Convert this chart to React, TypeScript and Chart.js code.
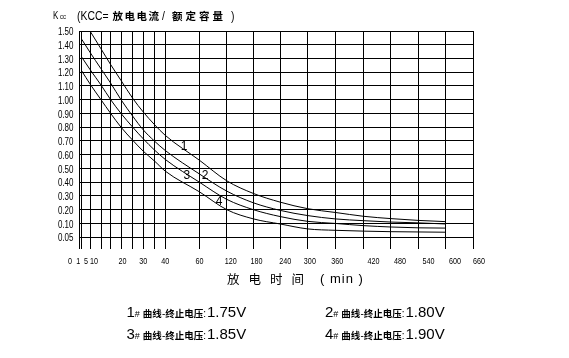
import React, { useEffect, useRef } from 'react';
import { Chart, registerables, LinearScale } from 'chart.js';

// ---------------- data ----------------
const MINUTES = [1, 5, 10, 15, 20, 25, 30, 35, 40, 60, 120, 180, 240, 300, 360, 420, 480, 540, 600];
const KCC_175 = [null, 1.5, 1.37, 1.255, 1.14, 1.01, 0.91, 0.82, 0.74, 0.56, 0.41, 0.318, 0.255, 0.207, 0.18, 0.152, 0.135, 0.122, 0.113];
const KCC_180 = [1.44, 1.345, 1.225, 1.12, 1.0, 0.88, 0.78, 0.7, 0.63, 0.46, 0.335, 0.25, 0.195, 0.157, 0.133, 0.12, 0.11, 0.104, 0.098];
const KCC_185 = [1.31, 1.22, 1.107, 1.0, 0.9, 0.8, 0.715, 0.635, 0.565, 0.4, 0.275, 0.2, 0.15, 0.115, 0.1, 0.092, 0.087, 0.084, 0.083];
const KCC_190 = [1.21, 1.115, 1.0, 0.9, 0.8, 0.705, 0.625, 0.555, 0.48, 0.33, 0.2, 0.133, 0.098, 0.08, 0.075, 0.072, 0.07, 0.069, 0.068];
const SERIES = [KCC_175, KCC_180, KCC_185, KCC_190];
const CURVE_NAMES = ['1', '2', '3', '4'];
const END_VOLTAGES = ['1.75V', '1.80V', '1.85V', '1.90V'];

const X_TICKS = [0, 1, 5, 10, 15, 20, 25, 30, 35, 40, 60, 120, 180, 240, 300, 360, 420, 480, 540, 600, 660];
const X_TICK_LABELS = ['0', '1', '5', '10', '', '20', '', '30', '', '40', '60', '120', '180', '240', '300', '360', '420', '480', '540', '600', '660'];
const Y_TICKS = [0.05, 0.1, 0.2, 0.3, 0.4, 0.5, 0.6, 0.7, 0.8, 0.9, 1.0, 1.1, 1.2, 1.3, 1.4, 1.5];
const Y_TICK_LABELS = ['0.05', '0.10', '0.20', '0.30', '0.40', '0.50', '0.60', '0.70', '0.80', '0.90', '1.00', '1.10', '1.20', '1.30', '1.40', '1.50'];

// curve tags, placed in data coordinates (minutes, Kcc)
const CURVE_TAGS = [
  { t: '1', m: 51, k: 0.66 },
  { t: '2', m: 72.5, k: 0.449 },
  { t: '3', m: 52.6, k: 0.449 },
  { t: '4', m: 103, k: 0.26 },
];

// ---------------- axis layout (non-uniform grid of the original sheet) ----------------
const X_BREAKS = [0, 1, 5, 10, 15, 20, 25, 30, 35, 40, 60, 120, 180, 240, 300, 360, 420, 480, 540, 600, 660];
const X_UNITS = [0, 2.7, 11, 22, 31.7, 42, 53.7, 64.3, 75.3, 86.3, 120.3, 147.7, 174.3, 201, 228.7, 256, 284.3, 311.7, 339.3, 366.7, 393.7];
const Y_BREAKS = [0, 0.05, 0.1, 1.5];
const Y_UNITS = [0, 0.86, 1.86, 15.86];
const X_LABEL_NUDGE: Record<number, number> = { 0: -9, 1: -3.5, 5: -4, 10: -7, 20: 1.5, 120: 4, 180: 3, 240: 5, 300: 2, 360: 2, 420: 10, 480: 9, 540: 10, 600: 9, 660: 6 };

const SANS = "'Liberation Sans', Arial, sans-serif";
const CJK = "'Noto Sans CJK SC', 'Noto Sans CJK JP', sans-serif";
const CONDENSE = 0.8;

function piecewise(breaks: number[], units: number[]) {
  const interp = (v: number, a: number[], b: number[]) => {
    const n = a.length - 1;
    let i = 1;
    while (i < n && v > a[i]) i++;
    const t = (v - a[i - 1]) / (a[i] - a[i - 1]);
    return b[i - 1] + t * (b[i] - b[i - 1]);
  };
  return {
    to: (v: number) => interp(v, breaks, units),
    from: (u: number) => interp(u, units, breaks),
  };
}

function makeScale(id: string, map: { to: (v: number) => number; from: (u: number) => number }, ticks: number[]) {
  return class extends LinearScale {
    static id = id;
    buildTicks() {
      return ticks.map((v) => ({ value: v }));
    }
    getPixelForValue(value: number) {
      const u0 = map.to(this.min);
      const u1 = map.to(this.max);
      return this.getPixelForDecimal((map.to(value) - u0) / (u1 - u0));
    }
    getValueForPixel(pixel: number) {
      const u0 = map.to(this.min);
      const u1 = map.to(this.max);
      return map.from(u0 + this.getDecimalForPixel(pixel) * (u1 - u0));
    }
  };
}

const MinuteScale = makeScale('kccMinutes', piecewise(X_BREAKS, X_UNITS), X_TICKS);
const RatioScale = makeScale('kccRatio', piecewise(Y_BREAKS, Y_UNITS), Y_TICKS);

Chart.register(...registerables, MinuteScale as any, RatioScale as any);

function condensedText(ctx: CanvasRenderingContext2D, text: string, x: number, y: number, align: CanvasTextAlign) {
  ctx.save();
  ctx.translate(x, y);
  ctx.scale(CONDENSE, 1);
  ctx.textAlign = align;
  ctx.fillText(text, 0, 0);
  ctx.restore();
}

const textPlugin = {
  id: 'kccText',
  afterDraw(chart: any) {
    const { ctx, chartArea } = chart;
    const xs = chart.scales.x;
    const ys = chart.scales.y;
    ctx.save();
    ctx.fillStyle = '#000';
    ctx.textBaseline = 'middle';
    ctx.font = `9px ${SANS}`;
    X_TICKS.forEach((v, i) => {
      const t = X_TICK_LABELS[i];
      if (!t) return;
      condensedText(ctx, t, xs.getPixelForValue(v) + (X_LABEL_NUDGE[v] || 0), chartArea.bottom + 13, 'center');
    });
    ctx.font = `10px ${SANS}`;
    Y_TICKS.forEach((v, i) => {
      condensedText(ctx, Y_TICK_LABELS[i], chartArea.left - 5.5, ys.getPixelForValue(v) + 1.5, 'right');
    });
    ctx.font = `12px ${SANS}`;
    ctx.textAlign = 'center';
    CURVE_TAGS.forEach((c) => {
      ctx.fillText(c.t, xs.getPixelForValue(c.m), ys.getPixelForValue(c.k));
    });
    ctx.restore();
  },
};

function LegendItem({ x, top, n, v }: { x: number; top: number; n: string; v: string }) {
  const cjk = { fontFamily: CJK, fontSize: 9.5, fontWeight: 700, lineHeight: 1 } as React.CSSProperties;
  return (
    <div style={{ position: 'absolute', left: x, top, whiteSpace: 'pre', lineHeight: '16px', fontFamily: SANS, fontSize: 15, color: '#000' }}>
      <span>{n}</span>
      <span style={{ fontSize: 9, lineHeight: 1 }}>#</span>
      <span style={{ ...cjk, marginLeft: 3 }}>曲线</span>
      <span style={{ fontSize: 10, lineHeight: 1 }}>-</span>
      <span style={cjk}>终止电压</span>
      <span style={{ fontSize: 10, lineHeight: 1 }}>:</span>
      <span style={{ marginLeft: 1 }}>{v}</span>
    </div>
  );
}

const abs = (left: number, top: number, extra: React.CSSProperties = {}): React.CSSProperties => ({
  position: 'absolute', left, top, whiteSpace: 'pre', lineHeight: '16px', ...extra,
});
const squeeze: React.CSSProperties = { display: 'inline-block', transform: `scaleX(${CONDENSE})`, transformOrigin: 'left center' };

export default function App() {
  const ref = useRef<HTMLCanvasElement>(null);
  useEffect(() => {
    if (!ref.current) return;
    const gridStyle = { color: '#000', lineWidth: 1, drawTicks: false };
    const chart = new Chart(ref.current, {
      type: 'line',
      data: {
        datasets: SERIES.map((s, si) => ({
          label: CURVE_NAMES[si],
          data: MINUTES.map((m, i) => (s[i] == null ? null : { x: m, y: s[i] as number })).filter(Boolean) as any,
          borderColor: '#000',
          borderWidth: 1,
          pointRadius: 0,
          fill: false,
          cubicInterpolationMode: 'monotone' as const,
        })),
      },
      options: {
        responsive: false,
        animation: false,
        events: [],
        layout: { padding: { left: 0, right: 96, top: 31, bottom: 0 } },
        plugins: { legend: { display: false }, tooltip: { enabled: false }, title: { display: false } },
        scales: {
          x: {
            type: 'kccMinutes' as any,
            position: 'bottom',
            min: 0,
            max: 660,
            afterFit: (s: any) => { s.height = 109; },
            grid: gridStyle,
            border: { display: false },
            ticks: { display: false, autoSkip: false, maxRotation: 0 },
          },
          y: {
            type: 'kccRatio' as any,
            position: 'left',
            min: 0,
            max: 1.5,
            afterFit: (s: any) => { s.width = 79; },
            grid: gridStyle,
            border: { display: false },
            ticks: { display: false, autoSkip: false },
          },
        } as any,
      },
      plugins: [textPlugin],
    });
    return () => chart.destroy();
  }, []);

  const cjkTitle: React.CSSProperties = { fontFamily: CJK, fontSize: 10.5, fontWeight: 700 };
  return (
    <div style={{ position: 'absolute', left: 0, top: 0, width: 569, height: 358, background: '#fff', overflow: 'hidden', color: '#000' }}>
      <canvas ref={ref} width={569} height={358} style={{ position: 'absolute', left: 0, top: 0, width: 569, height: 358 }} />
      {/* title */}
      <div style={abs(53, 8, { fontFamily: SANS, fontSize: 10 })}>
        <span style={squeeze}>K<span style={{ fontSize: 7.5 }}> cc</span></span>
      </div>
      <div style={abs(76.5, 8, { fontFamily: SANS, fontSize: 13 })}>
        <span style={squeeze}>(KCC=</span>
      </div>
      <div style={abs(112.5, 8, { ...cjkTitle, letterSpacing: 1.5 })}>放电电流</div>
      <div style={abs(162, 8, { fontFamily: SANS, fontSize: 13 })}>
        <span style={squeeze}>/</span>
      </div>
      <div style={abs(172, 8, { ...cjkTitle, letterSpacing: 3 })}>额定容量</div>
      <div style={abs(231, 8, { fontFamily: SANS, fontSize: 13 })}>
        <span style={squeeze}>)</span>
      </div>
      {/* x axis title */}
      <div style={abs(227, 271, { fontFamily: CJK, fontSize: 12.5, letterSpacing: 9 })}>放电时间</div>
      <div style={abs(320, 271, { fontFamily: SANS, fontSize: 13, letterSpacing: 1 })}>( min )</div>
      {/* legend */}
      <LegendItem x={126.5} top={304} n={CURVE_NAMES[0]} v={END_VOLTAGES[0]} />
      <LegendItem x={325} top={304} n={CURVE_NAMES[1]} v={END_VOLTAGES[1]} />
      <LegendItem x={126.5} top={326} n={CURVE_NAMES[2]} v={END_VOLTAGES[2]} />
      <LegendItem x={325} top={326} n={CURVE_NAMES[3]} v={END_VOLTAGES[3]} />
    </div>
  );
}
